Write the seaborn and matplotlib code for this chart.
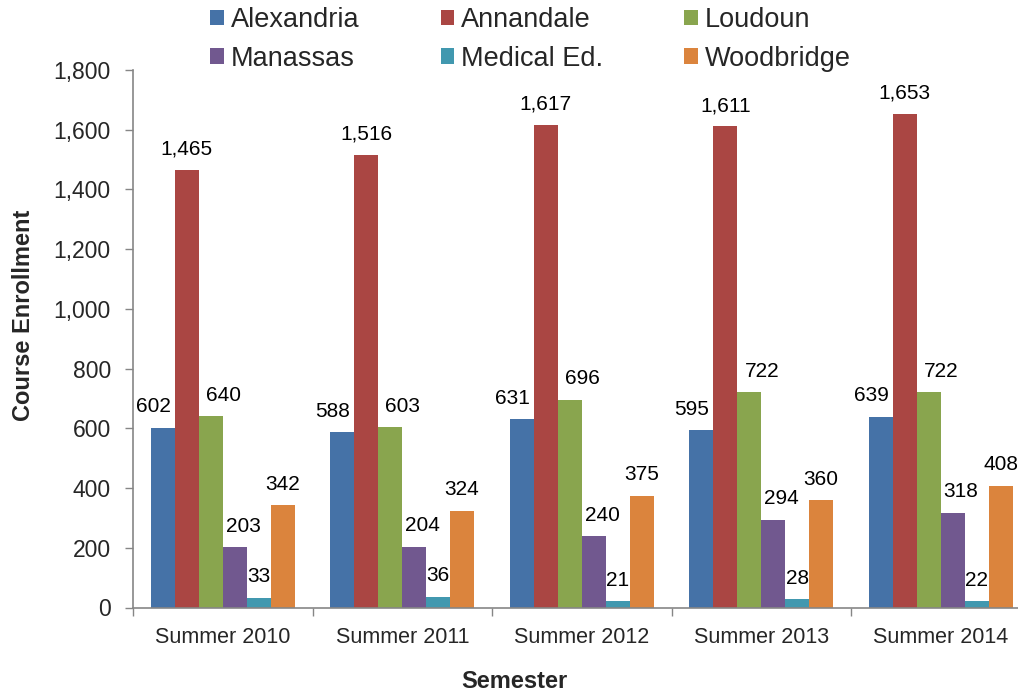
import matplotlib
matplotlib.use("Agg")
import matplotlib.pyplot as plt
import seaborn as sns
import pandas as pd
from matplotlib.ticker import FuncFormatter, FixedLocator

semesters = ["Summer 2010", "Summer 2011", "Summer 2012", "Summer 2013", "Summer 2014"]
campuses = ["Alexandria", "Annandale", "Loudoun", "Manassas", "Medical Ed.", "Woodbridge"]
alexandria = [602, 588, 631, 595, 639]
annandale = [1465, 1516, 1617, 1611, 1653]
loudoun = [640, 603, 696, 722, 722]
manassas = [203, 204, 240, 294, 318]
medical_ed = [33, 36, 21, 28, 22]
woodbridge = [342, 324, 375, 360, 408]
yticks = [0, 200, 400, 600, 800, 1000, 1200, 1400, 1600, 1800]

series = [alexandria, annandale, loudoun, manassas, medical_ed, woodbridge]
colors = ["#4572A7", "#AA4643", "#89A54E", "#71588F", "#4198AF", "#DB843D"]
label_dx = {"Alexandria": -7, "Annandale": 0, "Loudoun": 9, "Manassas": 6,
            "Medical Ed.": 0, "Woodbridge": 0}

rows = []
for c, vals in zip(campuses, series):
    for s, v in zip(semesters, vals):
        rows.append({"Semester": s, "Campus": c, "Enrollment": v})
df = pd.DataFrame(rows)

sns.set_style("white")
plt.rcParams["font.family"] = ["Liberation Sans", "DejaVu Sans"]

fig = plt.figure(figsize=(10.18, 6.93), dpi=100)
ax = fig.add_axes([133 / 1018, 1 - 607.5 / 693, 897.5 / 1018, 537.5 / 693])

sns.barplot(data=df, x="Semester", y="Enrollment", hue="Campus",
            order=semesters, hue_order=campuses, palette=colors,
            width=0.8, saturation=1, ax=ax, legend=True,
            edgecolor="none", linewidth=0)

for cont, camp in zip(ax.containers, campuses):
    for bar in cont:
        h = bar.get_height()
        ax.annotate(f"{int(h):,}", xy=(bar.get_x() + bar.get_width() / 2, h),
                    xytext=(label_dx[camp], 11), textcoords="offset points",
                    ha="center", va="baseline", fontsize=15, color="black")

ax.set_xlim(-0.5, 4.5)
ax.set_ylim(0, 1800)
ax.set_yticks(yticks)
ax.yaxis.set_major_formatter(FuncFormatter(lambda v, p: f"{int(v):,}"))
ax.tick_params(axis="y", which="major", length=6, width=1, color="#868686",
               labelsize=16.5, pad=10, left=True)
ax.tick_params(axis="x", which="major", length=0, labelsize=15.5, pad=14)
ax.xaxis.set_minor_locator(FixedLocator([i - 0.5 for i in range(len(semesters) + 1)]))
ax.tick_params(axis="x", which="minor", length=6, width=1, color="#868686", bottom=True)

for side in ["top", "right"]:
    ax.spines[side].set_visible(False)
for side in ["left", "bottom"]:
    ax.spines[side].set_color("#868686")
    ax.spines[side].set_linewidth(1.2)

ax.set_xlabel("Semester", fontsize=17, fontweight="bold")
ax.xaxis.set_label_coords((514 - 133) / 897.5, -(681 - 607.5) / 537.5)
ax.xaxis.label.set_va("center")
ax.set_ylabel("Course Enrollment", fontsize=17, fontweight="bold")
ax.yaxis.set_label_coords(-(133 - 24) / 897.5, (607.5 - 315) / 537.5)
ax.yaxis.label.set_va("center")

handles, labels = ax.get_legend_handles_labels()
order = [0, 3, 1, 4, 2, 5]
ax.legend([handles[i] for i in order], [labels[i] for i in order],
          ncol=3, loc="upper left", bbox_to_anchor=(209 / 1018, 1 - 6 / 693),
          bbox_transform=fig.transFigure, frameon=False, fontsize=19.5,
          handlelength=0.5, handleheight=0.5, handletextpad=0.25,
          columnspacing=3.0, labelspacing=0.45, borderaxespad=0.0,
          borderpad=0.05)

fig.savefig("out.png", dpi=100)
